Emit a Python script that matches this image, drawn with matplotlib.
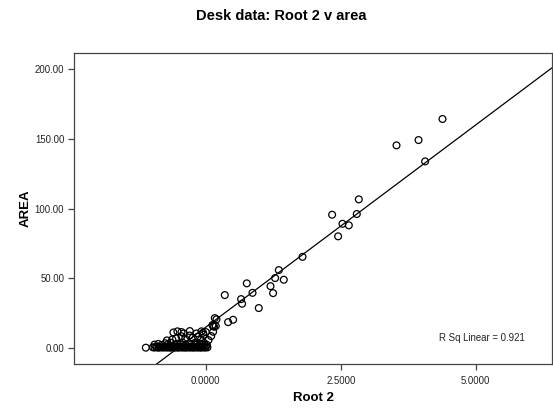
import matplotlib
matplotlib.use("Agg")
import matplotlib.pyplot as plt
import numpy as np

plt.rcParams['font.family'] = ['Liberation Sans', 'DejaVu Sans']

# ---- data ----
root2_upper = [4.383, 3.939, 3.531, 4.061, 2.833, 2.796, 2.339, 2.531, 2.648, 2.450,
               1.791, 1.352, 1.283, 1.444, 1.198, 1.246, 0.759, 0.865, 0.352, 0.654,
               0.672, 0.981, 0.506, 0.413, 0.167, 0.198, 0.135, 0.185, 0.154, 0.123,
               0.136]
area_upper = [164.2, 149.1, 145.3, 133.8, 106.6, 96.1, 95.6, 89.1, 88.0, 80.1,
              65.4, 55.9, 50.2, 49.0, 44.4, 39.4, 46.4, 39.6, 38.0, 35.1,
              31.8, 28.7, 20.3, 18.6, 21.5, 20.6, 15.8, 15.8, 15.3, 16.5,
              11.7]

root2_base = [-1.11, -0.98, -0.95, -0.92, -0.90, -0.87, -0.85, -0.83, -0.80, -0.78,
              -0.76, -0.74, -0.72, -0.70, -0.68, -0.66, -0.64, -0.62, -0.60, -0.58,
              -0.56, -0.54, -0.52, -0.50, -0.48, -0.46, -0.44, -0.42, -0.40, -0.38,
              -0.36, -0.34, -0.32, -0.30, -0.28, -0.26, -0.24, -0.22, -0.20, -0.18,
              -0.16, -0.14, -0.12, -0.10, -0.08, -0.06, -0.04, -0.02, 0.00, 0.03]
area_base = [0.3, 0.6, 0.4, 0.8, 0.5, 0.3, 0.9, 0.6, 0.4, 0.7,
             0.5, 0.9, 0.4, 0.6, 0.8, 0.3, 0.7, 0.5, 0.9, 0.4,
             0.6, 0.8, 0.3, 0.7, 0.5, 0.9, 0.4, 0.6, 0.8, 0.3,
             0.7, 0.5, 0.9, 0.4, 0.6, 0.8, 0.3, 0.7, 0.5, 0.9,
             0.4, 0.6, 0.8, 0.3, 0.7, 0.5, 0.9, 0.4, 0.6, 0.5]

root2_mid = [-0.95, -0.88, -0.82, -0.75, -0.70, -0.65, -0.58, -0.52, -0.47, -0.43,
             -0.37, -0.31, -0.27, -0.21, -0.17, -0.11, -0.07, -0.03, 0.02,
             -0.72, -0.62, -0.55, -0.45, -0.38, -0.30, -0.24, -0.15, -0.09, -0.04,
             0.05, 0.10]
area_mid = [2.5, 3.0, 2.2, 3.5, 2.8, 3.8, 2.4, 3.2, 2.6, 3.9,
            2.3, 3.4, 2.7, 3.6, 2.5, 3.1, 2.9, 3.7, 2.4,
            5.5, 6.2, 7.0, 8.5, 6.8, 9.0, 7.5, 8.2, 6.0, 9.5,
            5.7, 8.6]

root2_raised = [-0.60, -0.525, -0.45, -0.407, -0.296, -0.173, -0.08, -0.05, 0.00]
area_raised = [11.2, 12.0, 11.5, 10.5, 12.2, 10.5, 12.0, 11.0, 11.5]

fit_intercept = 15.0
fit_slope = 29.0
r_sq_text = "R Sq Linear = 0.921"

x_ticks = [0.0, 2.5, 5.0]
y_ticks = [0, 50, 100, 150, 200]

# ---- figure ----
fig = plt.figure(figsize=(5.53, 4.12), dpi=100)
ax = fig.add_axes([74/553, 48/412, 478/553, 311/412])

x_all = np.array(root2_base + root2_mid + root2_raised + root2_upper)
y_all = np.array(area_base + area_mid + area_raised + area_upper)

ax.scatter(x_all, y_all, s=24, facecolors='none', edgecolors='black',
           linewidths=0.9, zorder=3)

xlim = (-2.44, 6.41)
ylim = (-11.4, 211.5)
xs = np.array(xlim)
ax.plot(xs, fit_intercept + fit_slope * xs, color='black', lw=0.9, zorder=2)

ax.set_xlim(*xlim)
ax.set_ylim(*ylim)
ax.set_xticks(x_ticks)
ax.set_yticks(y_ticks)
ax.set_xticklabels([f"{v:.4f}" for v in x_ticks])
ax.set_yticklabels([f"{v:.2f}" for v in y_ticks])

for s in ax.spines.values():
    s.set_color('#444444')
    s.set_linewidth(0.9)
ax.tick_params(axis='both', direction='out', length=4, width=0.9,
               color='#444444', labelsize=6.9, labelcolor='#222222', pad=3)
ax.tick_params(axis='x', pad=5)

ax.set_xlabel("Root 2", fontsize=9.5, fontweight='bold', labelpad=4)
ax.set_ylabel("AREA", fontsize=9.5, fontweight='bold', labelpad=2)
fig.text(281/553, 1 - 16/412, "Desk data: Root 2 v area", fontsize=10.5,
         fontweight='bold', ha='center', va='center')

ax.text((439 - 74) / 478, (364 - 338) / 311, r_sq_text, transform=ax.transAxes,
        fontsize=6.9, ha='left', va='center', color='#222222')

fig.savefig("out.png", dpi=100)
